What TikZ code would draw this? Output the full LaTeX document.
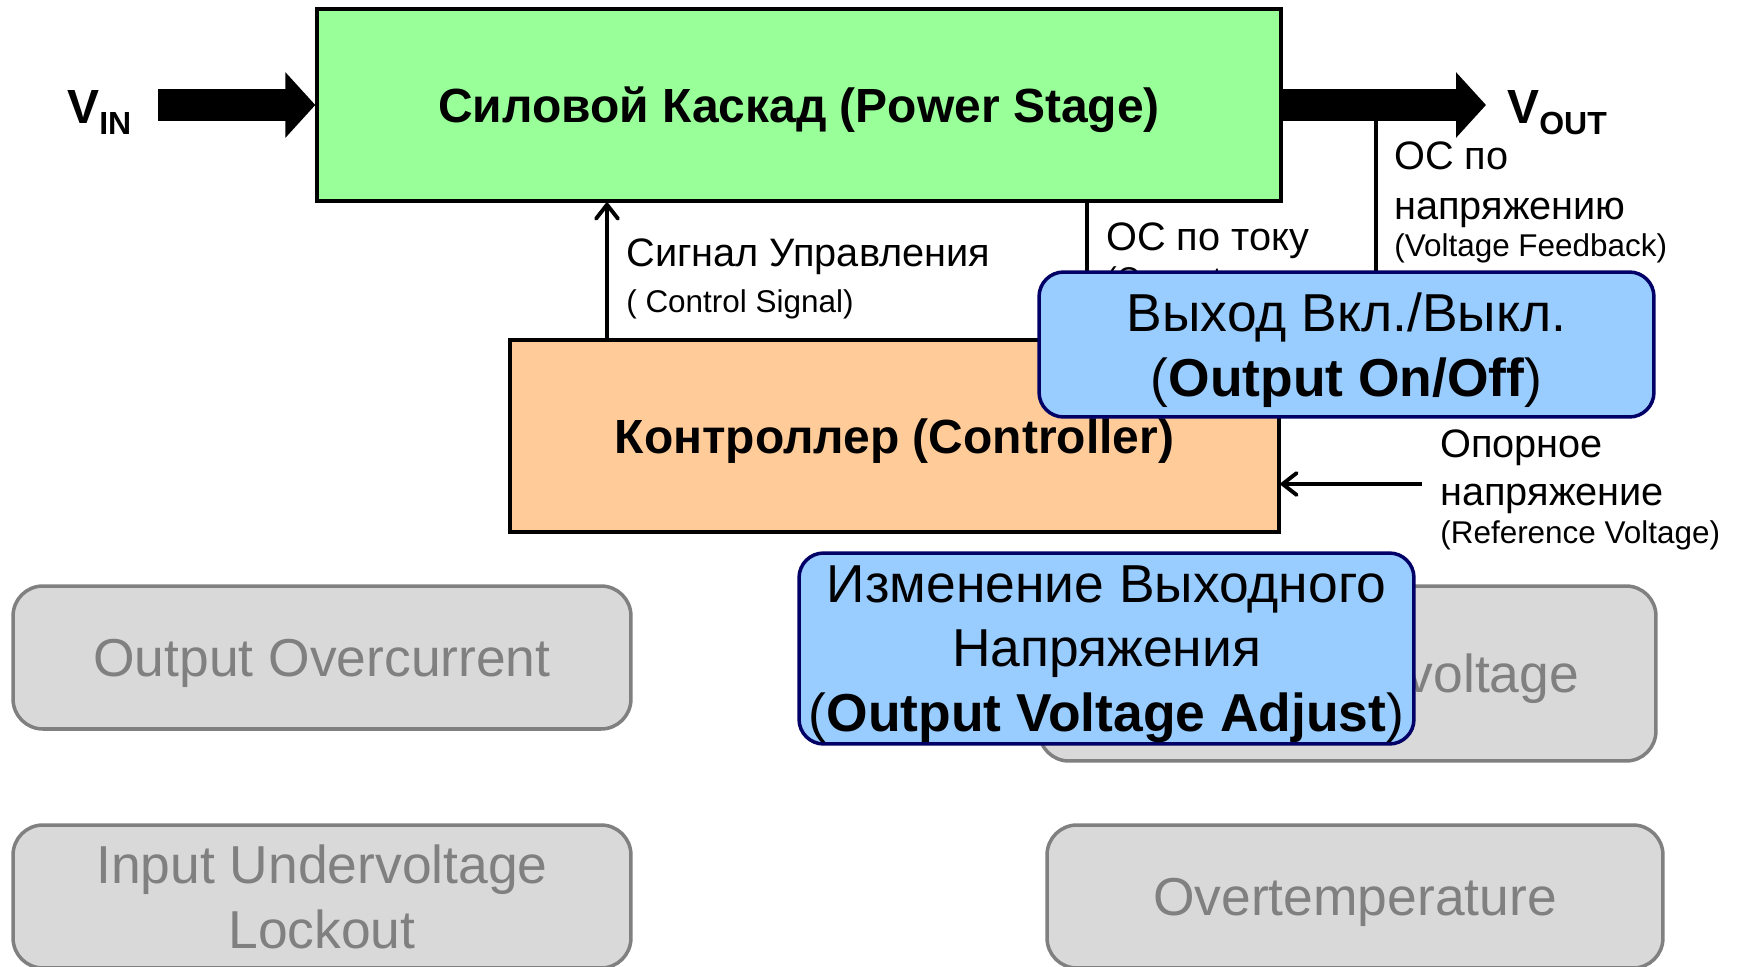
\documentclass[tikz,border=0pt]{standalone}
\usepackage{fontspec}
\setmainfont{Liberation Sans}
\usetikzlibrary{arrows.meta,positioning,calc}

\definecolor{psgreen}{RGB}{153,255,153}
\definecolor{ctrlorange}{RGB}{255,204,153}
\definecolor{featblue}{RGB}{153,204,255}
\definecolor{featnavy}{RGB}{0,0,102}
\definecolor{offgray}{RGB}{217,217,217}
\definecolor{offline}{RGB}{128,128,128}

\newcommand{\fnbig}{\fontsize{27.3}{32}\selectfont}
\newcommand{\fnmid}{\fontsize{22.6}{27}\selectfont}
\newcommand{\fnsmall}{\fontsize{17.9}{23}\selectfont}
\newcommand{\fnbox}{\fontsize{30.4}{36.6}\selectfont}
\newcommand{\vsub}[1]{\raisebox{-6.8pt}{\fontsize{18.2}{20}\selectfont #1}}

\begin{document}
\begin{tikzpicture}[
  x=0.02cm, y=-0.02cm,
  block/.style={draw=black, line width=2pt, align=center, inner sep=0pt, text depth=0pt},
  feature/.style={draw=featnavy, fill=featblue, line width=2pt, rounded corners=14pt,
                  align=center, inner sep=0pt, text depth=0pt, font=\fnbox, minimum width=12.3cm},
  inactive/.style={draw=offline, fill=offgray, text=offline, line width=2pt, rounded corners=17pt,
                   align=center, inner sep=0pt, text depth=0pt, font=\fnbox, minimum width=12.34cm},
  power/.style={line width=18.2pt, -{Triangle[length=0.6cm, width=1.28cm]}},
  sig/.style={line width=2.2pt, -{Straight Barb[length=8pt, width=12.5pt, round]}},
  fb/.style={line width=2.2pt},
  lbl/.style={anchor=base west, inner sep=0pt}
]
\useasboundingbox (0,0) rectangle (1742,967);
\clip (0,0) rectangle (1742,967);

% === Power path ===
\node[block, fill=psgreen, minimum width=19.28cm, minimum height=3.84cm,
      font=\fnbig\bfseries] (ps) at (799,105) {Силовой Каскад (Power Stage)};

\coordinate (vin) at (158,105);
\coordinate (vout) at (1486,105);
\draw[power] (vin) -- (ps.west);
\draw[power] (ps.east) -- (vout);

\node[lbl, font=\fnbig\bfseries] (vinlbl) at (67,123) {V\vsub{IN}};
\node[lbl, font=\fnbig\bfseries] (voutlbl) at (1507,123) {V\vsub{OUT}};

% === Controller and signals ===
\node[block, fill=ctrlorange, minimum width=15.38cm, minimum height=3.84cm,
      font=\fnbig\bfseries] (ctrl) at (894.5,436) {Контроллер (Controller)};

\coordinate (csig) at (607,0);
\coordinate (cfb) at (1087,0);
\coordinate (vfb) at (1376,110);
\coordinate (vref) at (1422,484);

\draw[sig] (ctrl.north -| csig) -- (ps.south -| csig);
\node[lbl, font=\fnmid] (csiglbl) at (626,266) {Сигнал Управления};
\node[lbl, font=\fnsmall] (csigen) at (626,312) {( Control Signal)};

\draw[fb] (ps.south -| cfb) -- (ctrl.north -| cfb);
\node[lbl, font=\fnmid] (cfblbl) at (1106,250) {ОС по току};
\node[lbl, font=\fnsmall, align=left] (cfben) at (1106,330) {(Current\\Feedback)};

\draw[fb] (vfb) -- (1376,330);
\node[lbl, font=\fnmid] (vfblbl) at (1394,169) {ОС по};
\node[lbl, font=\fnmid] (vfblblb) at (1394,219) {напряжению};
\node[lbl, font=\fnsmall] (vfben) at (1394,256) {(Voltage Feedback)};

\draw[sig] (vref) -- (vref -| ctrl.east);
\node[lbl, font=\fnmid] (vreflbl) at (1440,457) {Опорное};
\node[lbl, font=\fnmid] (vreflblb) at (1440,505) {напряжение};
\node[lbl, font=\fnsmall] (vrefen) at (1440,543) {(Reference Voltage)};

% === Protection features (inactive) ===
\node[inactive, minimum width=12.36cm, minimum height=2.86cm] (ocp) at (322,657.5) {Output Overcurrent};
\node[inactive, minimum height=3.5cm] (ovp) at (1347.5,673.5) {Output Overvoltage};
\node[inactive, minimum width=12.36cm, minimum height=2.86cm] (uvlo) at (322,896.5) {Input Undervoltage\\Lockout};
\node[inactive, minimum width=12.32cm, minimum height=2.86cm] (otp) at (1355,896.5) {Overtemperature};

% === Highlighted features ===
\node[feature, minimum height=2.9cm] (onoff) at (1346.5,344.5) {Выход Вкл./Выкл.\\(\textbf{Output On/Off})};
\node[feature, minimum height=3.82cm] (vadj) at (1106.5,648.5) {Изменение Выходного\\Напряжения\\(\textbf{Output Voltage Adjust})};

\end{tikzpicture}
\end{document}
